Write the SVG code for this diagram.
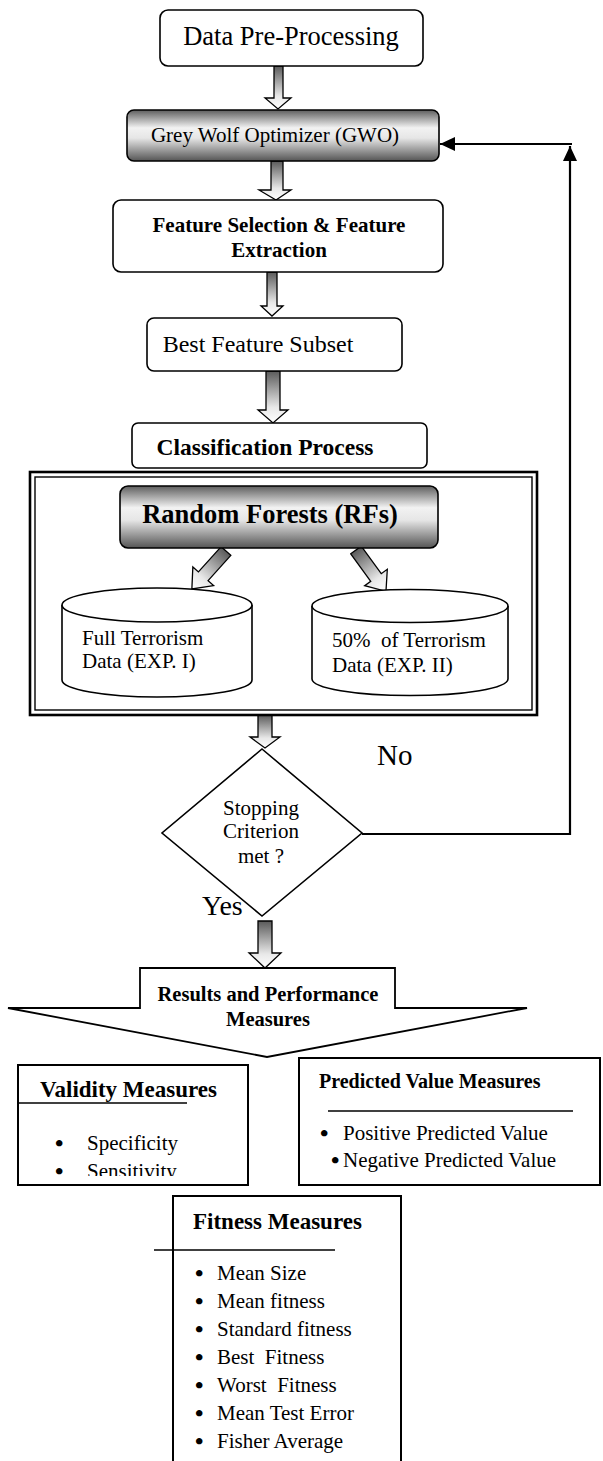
<svg xmlns="http://www.w3.org/2000/svg" width="603" height="1461" viewBox="0 0 603 1461">
<style>
text{font-family:"Liberation Serif","Times New Roman",serif;fill:#000}
.b{font-weight:bold}
.bu{font-size:24px;font-weight:bold}
.box{fill:#fff;stroke:#000;stroke-width:1.6}
.gbox{fill:url(#gbox);stroke:#000;stroke-width:1.6}
.blk{fill:url(#garr);stroke:#000;stroke-width:1.3;stroke-linejoin:miter}
.ln{fill:none;stroke:#000;stroke-width:2.2}
.sq{fill:#fff;stroke:#000;stroke-width:2}
.pre{white-space:pre}
</style>
<defs>
<linearGradient id="gbox" x1="0" y1="0" x2="0" y2="1">
<stop offset="0" stop-color="#5e5e5e"/>
<stop offset="0.35" stop-color="#f2f2f2"/>
<stop offset="0.55" stop-color="#e6e6e6"/>
<stop offset="1" stop-color="#555"/>
</linearGradient>
<linearGradient id="garr" x1="0" y1="0" x2="0" y2="1">
<stop offset="0" stop-color="#5a5a5a"/>
<stop offset="0.7" stop-color="#e8e8e8"/>
<stop offset="1" stop-color="#fff"/>
</linearGradient>
<marker id="ah" markerUnits="userSpaceOnUse" markerWidth="16" markerHeight="14" refX="15" refY="7" orient="auto">
<path d="M0,0 L15,7 L0,14 Z" fill="#000"/>
</marker>
<clipPath id="clipV"><rect x="18" y="1065" width="230" height="111"/></clipPath>
</defs>

<g id="connectors">
<path class="blk" d="M274,66 H283 V98 H291 L278,109 L265,98 H274 Z"/>
<path class="blk" d="M271,161 H283 V190 H291 L276,200 L259,190 H271 Z"/>
<path class="blk" d="M267,272 H277 V306 H283 L272,316 L261,306 H267 Z"/>
<path class="blk" d="M266,371 H280 V410 H288 L273,423 L258,410 H266 Z"/>
<path class="blk" transform="translate(226,551) rotate(42)" d="M-6.5,0 H6.5 V34 H14 L0,51 L-14,34 H-6.5 Z"/>
<path class="blk" transform="translate(356,550) rotate(-36)" d="M-6.5,0 H6.5 V34 H14 L0,51 L-14,34 H-6.5 Z"/>
<path class="blk" d="M258,715 H272 V737 H280 L265,748 L250,737 H258 Z"/>
<path class="blk" d="M258,921 H272 V953 H281 L265,968 L249,953 H258 Z"/>
<polyline class="ln" points="362,834 570,834 570,146" marker-end="url(#ah)"/>
<line class="ln" x1="572" y1="144" x2="440" y2="144" marker-end="url(#ah)"/>
</g>

<g id="n-data">
<rect class="box" x="160" y="10" width="263" height="56" rx="8"/>
<text x="291" y="45" font-size="26.5" text-anchor="middle">Data Pre-Processing</text>
</g>

<g id="n-gwo">
<rect class="gbox" x="127" y="110" width="312" height="51" rx="7"/>
<text x="275" y="142" font-size="21" text-anchor="middle">Grey Wolf Optimizer (GWO)</text>
</g>

<g id="n-feature">
<rect class="box" x="113" y="200" width="330" height="72" rx="8"/>
<text class="b" x="279" y="232" font-size="21" text-anchor="middle">Feature Selection &amp; Feature</text>
<text class="b" x="279" y="257" font-size="21" text-anchor="middle">Extraction</text>
</g>

<g id="n-best">
<rect class="box" x="147" y="318" width="255" height="53" rx="7"/>
<text x="258" y="352" font-size="24" text-anchor="middle">Best Feature Subset</text>
</g>

<g id="n-class">
<rect class="box" x="132" y="423" width="295" height="45" rx="6"/>
<text class="b" x="265" y="455" font-size="23.5" text-anchor="middle">Classification Process</text>
</g>

<g id="n-frame">
<rect x="30" y="472" width="507" height="243" fill="none" stroke="#000" stroke-width="2.6"/>
<rect x="35" y="477" width="497" height="233" fill="none" stroke="#000" stroke-width="1.4"/>
</g>

<g id="n-rf">
<rect class="gbox" x="120" y="486" width="318" height="62" rx="8"/>
<text class="b" x="270" y="523" font-size="26.5" text-anchor="middle">Random Forests (RFs)</text>
</g>

<g id="n-full">
<path class="box" d="M62,605 V680 A95,17 0 0 0 252,680 V605"/>
<ellipse class="box" cx="157" cy="605" rx="95" ry="17"/>
<text x="82" y="645" font-size="21">Full Terrorism</text>
<text x="82" y="668" font-size="21">Data (EXP. I)</text>
</g>

<g id="n-half">
<path class="box" d="M312,606 V679 A98,16.5 0 0 0 508,679 V606"/>
<ellipse class="box" cx="410" cy="606" rx="98" ry="16.5"/>
<text class="pre" x="332" y="647" font-size="21">50%  of Terrorism</text>
<text x="332" y="672" font-size="21">Data (EXP. II)</text>
</g>

<g id="n-stop">
<polygon points="262,749 362,833 262,916 162,833" fill="#fff" stroke="#000" stroke-width="1.6"/>
<text x="261" y="815" font-size="21" text-anchor="middle">Stopping</text>
<text x="261" y="838" font-size="21" text-anchor="middle">Criterion</text>
<text x="261" y="863" font-size="21" text-anchor="middle">met ?</text>
</g>

<text x="377" y="765" font-size="29">No</text>
<text x="202" y="915" font-size="28">Yes</text>

<g id="n-results">
<path d="M140,968 H395 V1008 H527 L267,1057 L8,1008 H140 Z" fill="#fff" stroke="#000" stroke-width="1.8" stroke-linejoin="miter"/>
<text class="b" x="268" y="1001" font-size="20.5" text-anchor="middle">Results and Performance</text>
<text class="b" x="268" y="1026" font-size="20.5" text-anchor="middle">Measures</text>
</g>

<g id="n-validity">
<rect class="sq" x="18" y="1065" width="230" height="120"/>
<text class="b" x="40" y="1097" font-size="23">Validity Measures</text>
<line x1="18" y1="1103" x2="187" y2="1103" stroke="#000" stroke-width="1.6"/>
<g clip-path="url(#clipV)">
<text class="bu" x="55" y="1151">•</text>
<text x="87" y="1150" font-size="21">Specificity</text>
<text class="bu" x="55" y="1179">•</text>
<text x="87" y="1178" font-size="21">Sensitivity</text>
</g>
</g>

<g id="n-predicted">
<rect class="sq" x="299" y="1058" width="301" height="127"/>
<text class="b" x="319" y="1088" font-size="20">Predicted Value Measures</text>
<line x1="328" y1="1111" x2="573" y2="1111" stroke="#000" stroke-width="1.6"/>
<text class="bu" x="320" y="1141">•</text>
<text x="343" y="1140" font-size="21">Positive Predicted Value</text>
<text class="bu" x="331" y="1168">•</text>
<text x="343" y="1167" font-size="21">Negative Predicted Value</text>
</g>

<g id="n-fitness">
<rect class="sq" x="173" y="1196" width="228" height="290"/>
<text class="b" x="193" y="1229" font-size="23">Fitness Measures</text>
<line x1="154" y1="1250" x2="335" y2="1250" stroke="#000" stroke-width="1.6"/>
<text class="bu" x="195" y="1281">•</text><text x="217" y="1280" font-size="21">Mean Size</text>
<text class="bu" x="195" y="1309">•</text><text x="217" y="1308" font-size="21">Mean fitness</text>
<text class="bu" x="195" y="1337">•</text><text x="217" y="1336" font-size="21">Standard fitness</text>
<text class="bu" x="195" y="1365">•</text><text class="pre" x="217" y="1364" font-size="21">Best  Fitness</text>
<text class="bu" x="195" y="1393">•</text><text class="pre" x="217" y="1392" font-size="21">Worst  Fitness</text>
<text class="bu" x="195" y="1421">•</text><text x="217" y="1420" font-size="21">Mean Test Error</text>
<text class="bu" x="195" y="1449">•</text><text x="217" y="1448" font-size="21">Fisher Average</text>
</g>
</svg>
